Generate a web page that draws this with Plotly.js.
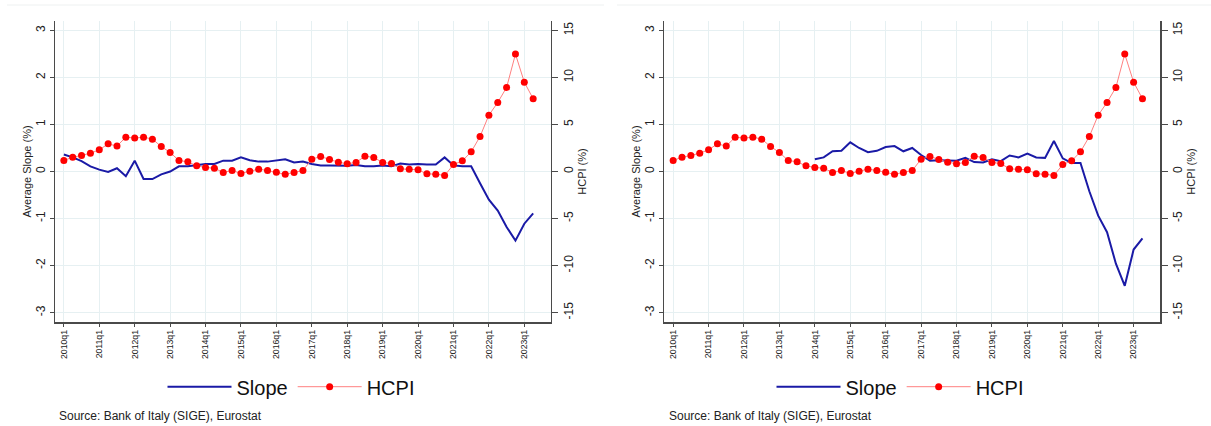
<!DOCTYPE html>
<html>
<head>
<meta charset="utf-8">
<script src="https://cdn.plot.ly/plotly-3.0.1.min.js"></script>
<style>html,body{margin:0;padding:0;background:#fff;}#chart{width:1211px;height:426px;}</style>
</head>
<body>
<div id="chart"></div>
<script>
// Quarters 2010q1 .. 2023q2
const quarters = [];
for (let y = 2010; y <= 2023; y++) {
  for (let q = 1; q <= 4; q++) {
    if (y === 2023 && q > 2) break;
    quarters.push(y + "q" + q);
  }
}
const tickLabels = ["2010q1","2011q1","2012q1","2013q1","2014q1","2015q1","2016q1",
  "2017q1","2018q1","2019q1","2020q1","2021q1","2022q1","2023q1"];

// HCPI (%), identical in both panels
const hcpi = [1.17,1.52,1.70,1.95,2.30,2.94,2.70,3.65,3.55,3.65,3.44,2.66,2.02,1.17,1.03,0.60,
  0.43,0.35,-0.10,0.10,-0.20,0.03,0.25,0.10,-0.07,-0.30,-0.10,0.10,1.31,1.60,1.28,0.99,
  0.82,0.96,1.63,1.49,0.96,0.85,0.28,0.25,0.18,-0.25,-0.28,-0.43,0.74,1.13,2.09,3.72,
  5.99,7.34,8.94,12.48,9.50,7.73];

// Average slope (%), left panel
const slopeLeft = [0.36,0.30,0.22,0.11,0.04,-0.01,0.07,-0.10,0.23,-0.16,-0.16,-0.06,0.00,0.11,0.11,0.14,
  0.16,0.16,0.23,0.23,0.30,0.24,0.21,0.21,0.24,0.26,0.19,0.21,0.16,0.13,0.13,0.13,
  0.12,0.14,0.11,0.11,0.13,0.11,0.17,0.15,0.16,0.15,0.15,0.30,0.13,0.11,0.11,-0.25,
  -0.60,-0.83,-1.18,-1.47,-1.11,-0.89];

// Average slope (%), right panel (starts 2014q1)
const slopeRight = [null,null,null,null,null,null,null,null,null,null,null,null,null,null,null,null,
  0.26,0.30,0.43,0.44,0.62,0.50,0.41,0.44,0.52,0.54,0.43,0.50,0.35,0.23,0.24,0.23,
  0.23,0.29,0.20,0.19,0.26,0.22,0.34,0.30,0.38,0.30,0.29,0.65,0.28,0.18,0.18,-0.42,
  -0.94,-1.29,-1.96,-2.43,-1.66,-1.42];

const slopeTicks = [-3,-2,-1,0,1,2,3];
const slopeTickText = ["-3","-2","-1","0","1","2","3"];
const hcpiTicks = [-15,-10,-5,0,5,10,15];
const hcpiTickText = ["-15","-10","-5","0","5","10","15"];

const FONT = "Liberation Sans, Arial, sans-serif";
const BLUE = "#1a1aa6";
const RED = "#ff0000";
const PINK = "#ff8080";
const GRID = "#e6f0f2";
const AX = "#4a4a4a";

const W = 1211, H = 426;
const px = v => v / W;
const py = v => 1 - v / H;

function slopeTrace(y, xa, ya, leg) {
  return {x: quarters, y: y, type: "scatter", mode: "lines", name: "Slope",
    xaxis: xa, yaxis: ya, legend: leg, connectgaps: false,
    line: {color: BLUE, width: 2}};
}
function hcpiTrace(xa, ya, leg) {
  return {x: quarters, y: hcpi, type: "scatter", mode: "lines+markers", name: "HCPI",
    xaxis: xa, yaxis: ya, legend: leg,
    line: {color: PINK, width: 1}, marker: {color: RED, size: 7}};
}

const data = [
  slopeTrace(slopeLeft, "x", "y", "legend"),
  hcpiTrace("x", "y2", "legend"),
  slopeTrace(slopeRight, "x2", "y3", "legend2"),
  hcpiTrace("x2", "y4", "legend2")
];

function xAxis(dom, anchor) {
  return {domain: dom, anchor: anchor, type: "category", range: [-1, 54.98],
    tickmode: "array", tickvals: tickLabels, ticktext: tickLabels, tickangle: -90,
    tickfont: {family: FONT, size: 8.7, color: "#222"},
    ticks: "outside", ticklen: 3, tickcolor: AX, tickwidth: 1,
    showline: true, linecolor: AX, linewidth: 1.5, mirror: false,
    showgrid: true, gridcolor: GRID, gridwidth: 1, zeroline: false, automargin: false, fixedrange: true};
}
function leftY(dom, anchor) {
  return {domain: dom, anchor: anchor, range: [-3.2, 3.2], tickmode: "array",
    tickvals: slopeTicks, ticktext: slopeTickText,
    tickangle: -90, tickfont: {family: FONT, size: 12, color: "#222"},
    ticks: "outside", ticklen: 4, tickcolor: AX, tickwidth: 1,
    showline: true, linecolor: AX, linewidth: 1.5,
    showgrid: true, gridcolor: GRID, gridwidth: 1, zeroline: false, automargin: false,
    title: {text: "Average Slope (%)", font: {family: FONT, size: 11, color: "#222"}, standoff: 0},
    fixedrange: true};
}
function rightY(overlay, anchor) {
  return {overlaying: overlay, anchor: anchor, side: "right", range: [-16, 16], tickmode: "array",
    tickvals: hcpiTicks, ticktext: hcpiTickText, tickangle: -90,
    tickfont: {family: FONT, size: 12, color: "#222"},
    ticks: "outside", ticklen: 6, tickcolor: AX, tickwidth: 1,
    showline: true, linecolor: AX, linewidth: 1.5,
    showgrid: false, zeroline: false, automargin: false,
    title: {text: "HCPI (%)", font: {family: FONT, size: 11, color: "#222"}, standoff: 0},
    fixedrange: true};
}

const yDom = [py(322), py(21)];
const legendCommon = {orientation: "h", xanchor: "center", y: py(386.7), yanchor: "middle",
  font: {family: FONT, size: 20, color: "#111"}, itemwidth: 64, bgcolor: "rgba(0,0,0,0)"};
const layout = {
  width: W, height: H,
  margin: {l: 0, r: 0, t: 0, b: 0},
  paper_bgcolor: "#fff", plot_bgcolor: "#fff",
  font: {family: FONT, color: "#222"},
  xaxis: xAxis([px(55), px(550.7)], "y"),
  yaxis: leftY(yDom, "x"),
  yaxis2: rightY("y", "x"),
  xaxis2: xAxis([px(664.3), px(1160)], "y3"),
  yaxis3: leftY(yDom, "x2"),
  yaxis4: rightY("y3", "x2"),
  legend: Object.assign({x: px(291)}, legendCommon),
  legend2: Object.assign({x: px(900)}, legendCommon),
  showlegend: true,
  annotations: [
    {text: "Source: Bank of Italy (SIGE), Eurostat", xref: "paper", yref: "paper",
     x: px(57), y: py(416), xanchor: "left", yanchor: "middle", showarrow: false,
     font: {family: FONT, size: 12, color: "#222"}},
    {text: "Source: Bank of Italy (SIGE), Eurostat", xref: "paper", yref: "paper",
     x: px(666.7), y: py(416), xanchor: "left", yanchor: "middle", showarrow: false,
     font: {family: FONT, size: 12, color: "#222"}}
  ],
  shapes: [
    {type: "line", xref: "paper", yref: "paper", x0: px(7), x1: px(604), y0: py(5), y1: py(5),
     line: {color: "#eef1f1", width: 1}},
    {type: "line", xref: "paper", yref: "paper", x0: px(617), x1: px(1211), y0: py(5), y1: py(5),
     line: {color: "#eef1f1", width: 1}}
  ]
};

Plotly.newPlot("chart", data, layout, {displayModeBar: false, staticPlot: true});
</script>
</body>
</html>
